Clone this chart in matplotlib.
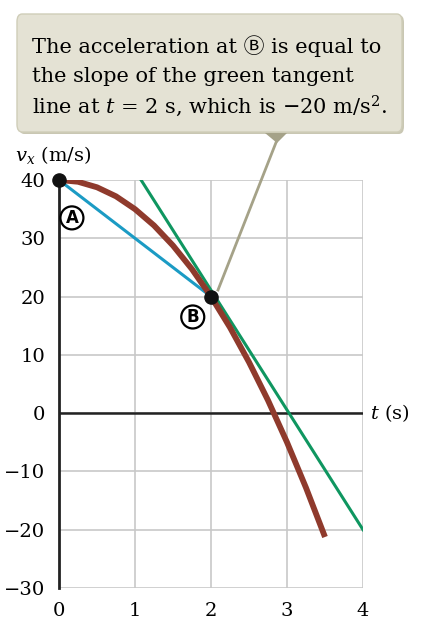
import numpy as np
import matplotlib.pyplot as plt
from matplotlib.patches import FancyBboxPatch, Polygon

plt.rcParams['font.family'] = ['DejaVu Serif', 'DejaVu Sans', 'Noto Sans CJK SC']
plt.rcParams['mathtext.fontset'] = 'dejavuserif'

# curva v_x(t)
t_curva = [0, 0.25, 0.5, 0.75, 1.0, 1.25, 1.5, 1.75, 2.0, 2.25, 2.5, 2.75, 3.0, 3.25, 3.5]
v_curva = [40, 39.7, 38.75, 37.2, 35, 32.2, 28.75, 24.7, 20, 14.7, 8.75, 2.2, -5, -12.8, -21.25]

# cuerda A-B (azul) y tangente en B (verde)
t_cuerda = [0, 2]
v_cuerda = [40, 20]
t_tangente = [1.08, 4]
v_tangente = [40, -20]

# puntos A y B
t_puntos = [0, 2]
v_puntos = [40, 20]

x_ticks = [0, 1, 2, 3, 4]
y_ticks = [-30, -20, -10, 0, 10, 20, 30, 40]

W, H = 428, 641
fig = plt.figure(figsize=(W / 100, H / 100), dpi=100)
ax = fig.add_axes([59 / W, 1 - 588 / H, 304 / W, 408 / H])
ax.set_xlim(0, 4)
ax.set_ylim(-30, 40)

ax.set_xticks(x_ticks)
ax.set_yticks(y_ticks)
ax.set_yticklabels([str(v).replace('-', '\u2212') for v in y_ticks])
ax.tick_params(length=0, labelsize=14, pad=10)
ax.grid(True, color='#c8c8c8', lw=1.2)
for s in ['top', 'right', 'bottom']:
    ax.spines[s].set_visible(False)
ax.spines['left'].set_linewidth(2)
ax.spines['left'].set_color('#222222')
ax.axhline(0, color='#222222', lw=1.8, zorder=2)

ax.plot(t_cuerda, v_cuerda, color='#1b9bc4', lw=2.2, zorder=3)
ax.plot(t_tangente, v_tangente, color='#0f9660', lw=2.2, zorder=4)
ax.plot(t_curva, v_curva, color='#8f3a2c', lw=4.2, solid_capstyle='butt',
        solid_joinstyle='round', zorder=5)
ax.scatter(t_puntos, v_puntos, s=90, color='#111111', zorder=6, clip_on=False)

circ = dict(boxstyle='circle,pad=0.15', fc='white', ec='black', lw=1.6)
ax.text(0.17, 33.5, 'A', fontsize=12, fontweight='bold', family='DejaVu Sans',
        ha='center', va='center', bbox=circ)
ax.text(1.76, 16.5, 'B', fontsize=12, fontweight='bold', family='DejaVu Sans',
        ha='center', va='center', bbox=circ)

fig.text(15 / W, 1 - 155 / H, r'$v_x$ (m/s)', fontsize=14, va='center', ha='left')
fig.text(370 / W, 1 - 413 / H, r'$t$ (s)', fontsize=14, va='center', ha='left')

# cuadro de la nota
caja = FancyBboxPatch((19 / W, 1 - 134 / H), 385 / W, 119 / H,
                      boxstyle='round,pad=0,rounding_size=0.012',
                      transform=fig.transFigure, fc='#c9c7b3', ec='none')
fig.patches.append(caja)
caja = FancyBboxPatch((17 / W, 1 - 132 / H), 385 / W, 118 / H,
                      boxstyle='round,pad=0,rounding_size=0.012',
                      transform=fig.transFigure, fc='#e4e2d4', ec='#cfcdb8', lw=1)
fig.patches.append(caja)
flecha = Polygon([(265 / W, 1 - 133 / H), (287 / W, 1 - 133 / H), (277 / W, 1 - 143 / H)],
                 closed=True, transform=fig.transFigure, fc='#a5a288', ec='none')
fig.patches.append(flecha)
fig.add_artist(plt.Line2D([277 / W, 218 / W], [1 - 140 / H, 1 - 290 / H],
                          transform=fig.transFigure, color='#a5a288', lw=2))

lineas = ['The acceleration at \u24b7 is equal to',
          'the slope of the green tangent',
          'line at $t$ = 2 s, which is \u221220 m/s$^2$.']
for i, s in enumerate(lineas):
    fig.text(32 / W, 1 - (46 + 30 * i) / H, s, fontsize=15, va='center', ha='left')

fig.savefig('out.png', dpi=100)
